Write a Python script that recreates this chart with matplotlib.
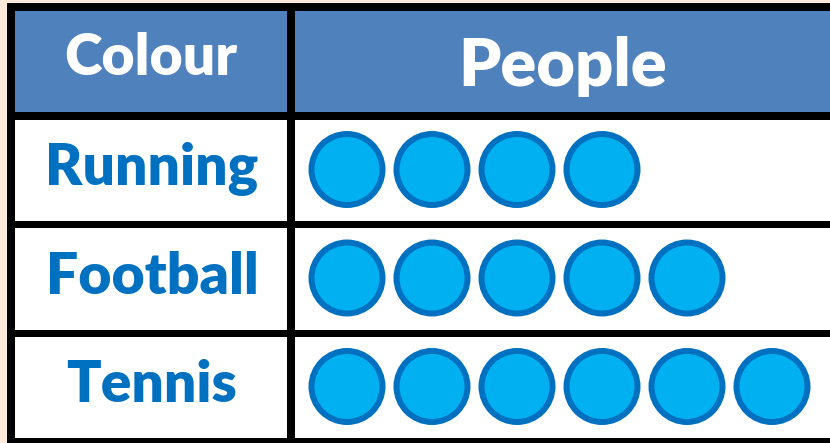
import matplotlib.pyplot as plt
from matplotlib.patches import Rectangle, Circle

# dados do pictograma
categorias = ["Running", "Football", "Tennis"]
pessoas = [4, 5, 6]
cabecalho = ["Colour", "People"]

azul_cab = "#4F81BD"
azul_txt = "#0070C0"
azul_circ = "#00B0F0"
fundo = "#FDE9D9"

fig = plt.figure(figsize=(8.3, 4.43), dpi=100, facecolor=fundo)
ax = fig.add_axes([0, 0, 1, 1])
ax.set_xlim(0, 830)
ax.set_ylim(443, 0)
ax.set_aspect("equal")
ax.axis("off")

# geometria da tabela (pixels)
col_x = [(15, 287), (295, 900)]
linhas_y = [(11, 112), (120, 221), (228, 330), (337, 438)]

ax.add_patch(Rectangle((7, 3), 900, 500, facecolor="black", edgecolor="none"))
for i, (y0, y1) in enumerate(linhas_y):
    for (x0, x1) in col_x:
        cor = azul_cab if i == 0 else "white"
        ax.add_patch(Rectangle((x0, y0), x1 - x0, y1 - y0, facecolor=cor, edgecolor="none"))

fonte = ["Lato", "DejaVu Sans"]
peso = "heavy"

# cabeçalho
yc = (linhas_y[0][0] + linhas_y[0][1]) / 2
ax.text(151, yc + 13.5, cabecalho[0], color="white", fontsize=41, fontweight=peso,
        family=fonte, ha="center", va="baseline")
ax.text(563, yc + 24.5, cabecalho[1], color="white", fontsize=48, fontweight=peso,
        family=fonte, ha="center", va="baseline")

# linhas com círculos
passo = 85
x_primeiro = 347
raio = 35.5
for (y0, y1), nome, n in zip(linhas_y[1:], categorias, pessoas):
    yc = (y0 + y1) / 2
    ax.text(152, yc + 15, nome, color=azul_txt, fontsize=41, fontweight=peso,
            family=fonte, ha="center", va="baseline")
    for k in range(n):
        ax.add_patch(Circle((x_primeiro + k * passo, yc - 1), raio, facecolor=azul_circ,
                            edgecolor=azul_txt, linewidth=4.3))

fig.savefig("out.png", dpi=100, facecolor=fundo)
